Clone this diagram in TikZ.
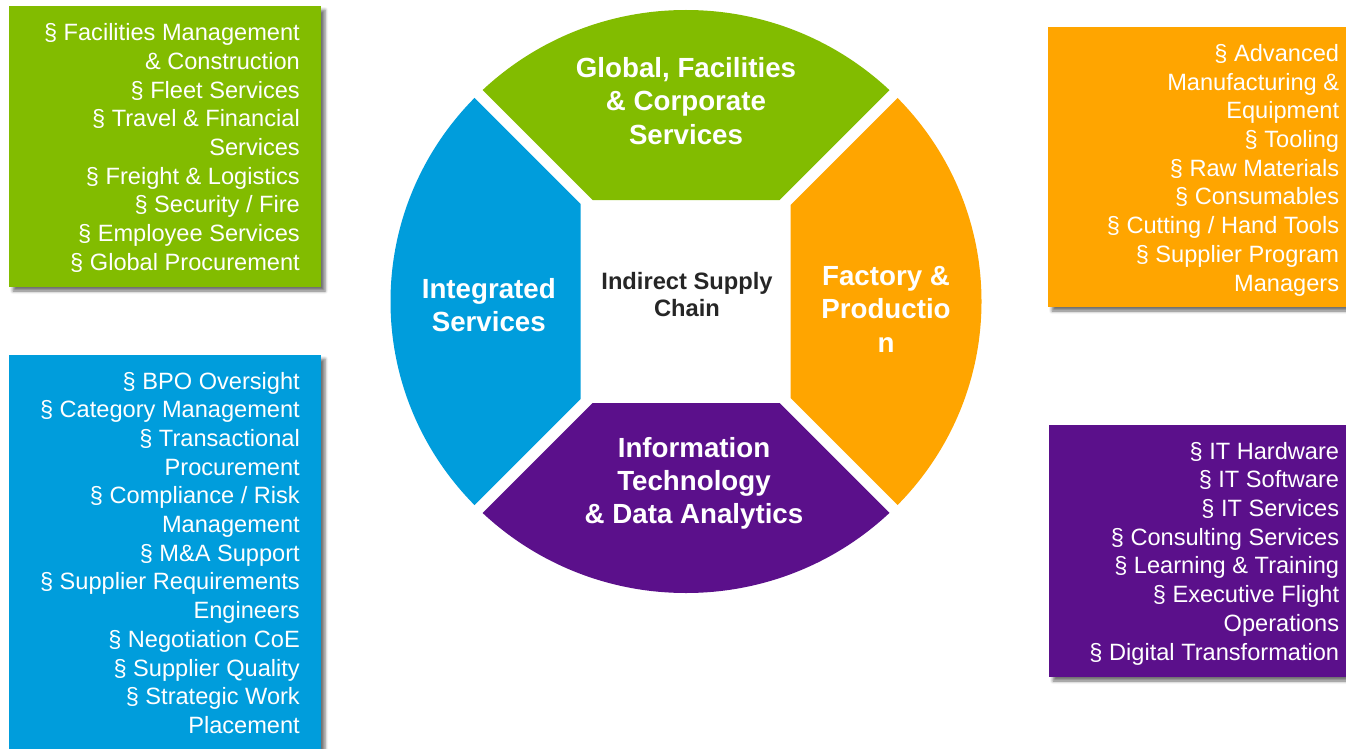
\documentclass[tikz,border=0pt]{standalone}
\usepackage{fontspec}
\setmainfont{Liberation Sans}
\usetikzlibrary{shadows.blur}
\definecolor{cgreen}{RGB}{130,188,0}
\definecolor{cblue}{RGB}{0,157,220}
\definecolor{corange}{RGB}{255,165,0}
\definecolor{cpurple}{RGB}{91,16,139}
\definecolor{ctext}{RGB}{38,38,38}
\begin{document}
\begin{tikzpicture}[x=1pt,y=-1pt,
  listbox/.style={blur shadow={shadow xshift=4pt,shadow yshift=-4pt,shadow blur radius=3pt,shadow opacity=55}},
  listtext/.style={text=white,align=right,anchor=base east,inner sep=0pt,
    font=\fontsize{23.6}{28.7}\selectfont},
  seglabel/.style={text=white,align=center,anchor=base,inner sep=0pt,
    font=\bfseries\fontsize{27.7}{33.4}\selectfont},
  centerlabel/.style={text=ctext,align=center,anchor=base,inner sep=0pt,
    font=\bfseries\fontsize{23.7}{27.5}\selectfont}
]
\useasboundingbox (0,0) rectangle (1346,749);

% list boxes
\fill[cgreen,listbox] (9,6) rectangle (321,287);
\fill[cblue,listbox] (9,355) rectangle (321,770);
\fill[corange,listbox] (1048,27) rectangle (1370,307);
\fill[cpurple,listbox] (1049,425) rectangle (1370,677);

% ring segments
\begin{scope}[shift={(686,301.5)},yscale=-1]
  \begin{scope}
    \clip (-93.5,101.5) -- (-400,408) -- (400,408) -- (93.5,101.5) -- cycle;
    \fill[cgreen] (0,0) ellipse [x radius=295.5,y radius=291.5];
  \end{scope}
  \begin{scope}
    \clip (104.5,96.5) -- (410,402) -- (410,-402) -- (104.5,-96.5) -- cycle;
    \fill[corange] (0,0) ellipse [x radius=295.5,y radius=291.5];
  \end{scope}
  \begin{scope}
    \clip (-105.5,97.5) -- (-410,402) -- (-410,-402) -- (-105.5,-97.5) -- cycle;
    \fill[cblue] (0,0) ellipse [x radius=295.5,y radius=291.5];
  \end{scope}
  \begin{scope}
    \clip (-93.5,-101.5) -- (-400,-408) -- (400,-408) -- (93.5,-101.5) -- cycle;
    \fill[cpurple] (0,0) ellipse [x radius=295.5,y radius=291.5];
  \end{scope}
\end{scope}

% segment labels (anchored at the baseline of their last line)
\node[seglabel] (gseg) at (686,144.3) {Global, Facilities\\\& Corporate\\Services};
\node[seglabel] (bseg) at (488.8,331.6) {Integrated\\Services};
\node[seglabel] (oseg) at (886,352.3) {Factory \&\\Productio\\n};
\node[seglabel] (pseg) at (694,523.8) {Information\\Technology\\\& Data Analytics};
\node[centerlabel] (core) at (687,316.8) {Indirect Supply\\Chain};

% list texts (anchored at the baseline of their last line)
\node[listtext] (glist) at (300,270.3) {§ Facilities Management\\\& Construction\\§ Fleet Services\\§ Travel \& Financial\\Services\\§ Freight \& Logistics\\§ Security / Fire\\§ Employee Services\\§ Global Procurement};
\node[listtext] (blist) at (300,733.4) {§ BPO Oversight\\§ Category Management\\§ Transactional\\Procurement\\§ Compliance / Risk\\Management\\§ M\&A Support\\§ Supplier Requirements\\Engineers\\§ Negotiation CoE\\§ Supplier Quality\\§ Strategic Work\\Placement};
\node[listtext] (olist) at (1339.3,291) {§ Advanced\\Manufacturing \&\\Equipment\\§ Tooling\\§ Raw Materials\\§ Consumables\\§ Cutting / Hand Tools\\§ Supplier Program\\Managers};
\node[listtext] (plist) at (1339.3,660) {§ IT Hardware\\§ IT Software\\§ IT Services\\§ Consulting Services\\§ Learning \& Training\\§ Executive Flight\\Operations\\§ Digital Transformation};
\end{tikzpicture}
\end{document}
